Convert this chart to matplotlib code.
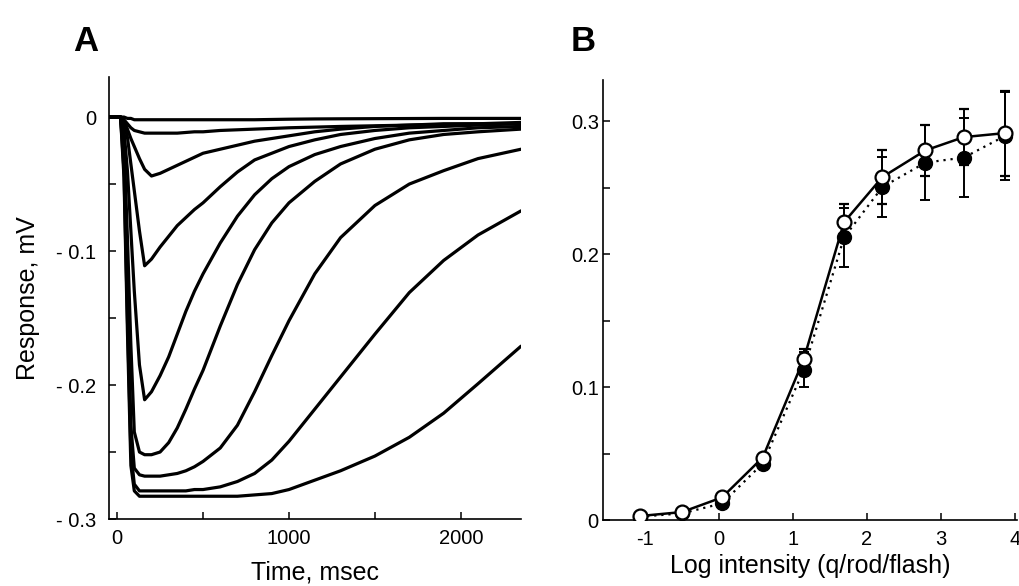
import matplotlib
matplotlib.use("Agg")
import matplotlib.pyplot as plt
from matplotlib.ticker import FixedLocator

plt.rcParams['font.family'] = ['Liberation Sans', 'DejaVu Sans']

# --- panel A: flash responses (ms, mV), one list per flash intensity
time_ms = [-45, 0, 20, 40, 60, 80, 100, 130, 160, 200, 250, 300, 350, 400, 450,
           500, 600, 700, 800, 900, 1000, 1150, 1300, 1500, 1700, 1900, 2100, 2350]

resp1 = [0, 0, 0, 0, -0.001, -0.001, -0.002, -0.002, -0.002, -0.002, -0.002, -0.002, -0.002, -0.002,
         -0.002, -0.002, -0.002, -0.002, -0.002, -0.0018, -0.0016, -0.0014, -0.0013, -0.0012, -0.0011,
         -0.001, -0.001, -0.001]
resp2 = [0, 0, 0, -0.002, -0.005, -0.008, -0.010, -0.011, -0.012, -0.012, -0.012, -0.012, -0.012,
         -0.0115, -0.011, -0.011, -0.010, -0.0095, -0.009, -0.0085, -0.008, -0.0075, -0.007,
         -0.0065, -0.006, -0.0055, -0.005, -0.005]
resp3 = [0, 0, 0, -0.003, -0.009, -0.016, -0.022, -0.031, -0.039, -0.044, -0.042, -0.039, -0.036,
         -0.033, -0.030, -0.027, -0.024, -0.021, -0.018, -0.016, -0.014, -0.011, -0.009, -0.007,
         -0.006, -0.005, -0.005, -0.004]
resp4 = [0, 0, 0, -0.004, -0.015, -0.035, -0.055, -0.085, -0.111, -0.106, -0.097, -0.089, -0.081,
         -0.075, -0.069, -0.064, -0.052, -0.041, -0.032, -0.027, -0.022, -0.017, -0.013, -0.010,
         -0.008, -0.007, -0.006, -0.005]
resp5 = [0, 0, 0, -0.010, -0.040, -0.085, -0.130, -0.185, -0.211, -0.205, -0.193, -0.179, -0.162,
         -0.145, -0.130, -0.117, -0.094, -0.074, -0.058, -0.046, -0.037, -0.028, -0.022, -0.016,
         -0.012, -0.010, -0.008, -0.007]
resp6 = [0, 0, 0, -0.020, -0.090, -0.170, -0.235, -0.250, -0.252, -0.252, -0.250, -0.243, -0.232,
         -0.218, -0.203, -0.189, -0.156, -0.125, -0.099, -0.079, -0.064, -0.048, -0.035, -0.024,
         -0.017, -0.013, -0.011, -0.009]
resp7 = [0, 0, 0, -0.030, -0.120, -0.230, -0.262, -0.267, -0.268, -0.268, -0.268, -0.267, -0.266,
         -0.264, -0.261, -0.257, -0.247, -0.230, -0.205, -0.178, -0.152, -0.117, -0.090, -0.066,
         -0.050, -0.040, -0.031, -0.024]
resp8 = [0, 0, 0, -0.040, -0.150, -0.250, -0.274, -0.279, -0.279, -0.279, -0.279, -0.279, -0.279,
         -0.279, -0.278, -0.278, -0.276, -0.272, -0.266, -0.256, -0.242, -0.218, -0.194, -0.162,
         -0.131, -0.107, -0.088, -0.070]
resp9 = [0, 0, 0, -0.045, -0.160, -0.260, -0.279, -0.283, -0.283, -0.283, -0.283, -0.283, -0.283,
         -0.283, -0.283, -0.283, -0.283, -0.283, -0.282, -0.281, -0.278, -0.271, -0.264, -0.253,
         -0.239, -0.221, -0.199, -0.171]

# --- panel B: intensity-response (log q/rod/flash, mV)
log_int = [-1.07, -0.50, 0.04, 0.59, 1.145, 1.69, 2.21, 2.79, 3.31, 3.865]
amp_open = [0.003, 0.006, 0.017, 0.047, 0.121, 0.224, 0.258, 0.278, 0.288, 0.291]
err_open = [0, 0, 0, 0.003, 0.008, 0.014, 0.020, 0.019, 0.021, 0.032]
amp_filled = [0.0025, 0.005, 0.0125, 0.0425, 0.113, 0.2125, 0.2505, 0.2688, 0.2726, 0.2888]
err_filled = [0, 0, 0, 0.004, 0.013, 0.022, 0.0225, 0.028, 0.030, 0.033]

fig = plt.figure(figsize=(10.2, 5.86), dpi=100)
axA = fig.add_axes([0.1069, 0.1143, 0.4039, 0.7543])
axB = fig.add_axes([0.5912, 0.1126, 0.4059, 0.7510])

for r in [resp1, resp2, resp3, resp4, resp5, resp6, resp7, resp8, resp9]:
    axA.plot(time_ms, r, color='black', lw=2.3, solid_joinstyle='round',
             solid_capstyle='round')

axA.set_xlim(-47, 2350)
axA.set_ylim(-0.3, 0.0299)
axA.xaxis.set_major_locator(FixedLocator([0, 1000, 2000]))
axA.xaxis.set_minor_locator(FixedLocator([500, 1500]))
axA.set_xticklabels(['0', '1000', '2000'])
axA.yaxis.set_major_locator(FixedLocator([0, -0.1, -0.2, -0.3]))
axA.yaxis.set_minor_locator(FixedLocator([-0.05, -0.15, -0.25]))
axA.set_yticklabels(['0', '- 0.1', '- 0.2', '- 0.3'])
axA.set_xlabel('Time, msec', fontsize=18, labelpad=9)
axA.set_ylabel('Response, mV', fontsize=18, labelpad=12)

# panel B
axB.errorbar(log_int, amp_filled, yerr=err_filled, color='black', lw=1.6,
             linestyle=(0, (1, 2.2)), marker='o', ms=10, mfc='black', mec='black',
             ecolor='black', elinewidth=1.4, capsize=3.5, capthick=1.4, zorder=2)
axB.errorbar(log_int, amp_open, yerr=err_open, color='black', lw=1.8,
             linestyle='-', marker='o', ms=10, mfc='white', mec='black', mew=1.6,
             ecolor='black', elinewidth=1.4, capsize=3.5, capthick=1.4, zorder=3)

axB.set_xlim(-1.57, 4.03)
axB.set_ylim(0, 0.331)
axB.set_xticks([-1, 0, 1, 2, 3, 4])
axB.set_xticklabels(['-1', '0', '1', '2', '3', '4'])
axB.yaxis.set_major_locator(FixedLocator([0, 0.1, 0.2, 0.3]))
axB.yaxis.set_minor_locator(FixedLocator([0.05, 0.15, 0.25]))
axB.set_yticklabels(['0', '0.1', '0.2', '0.3'])
axB.set_xlabel('Log intensity (q/rod/flash)', fontsize=18, labelpad=4)

for ax, ypad in [(axA, 9), (axB, 3)]:
    ax.spines['top'].set_visible(False)
    ax.spines['right'].set_visible(False)
    ax.spines['left'].set_linewidth(1.2)
    ax.spines['bottom'].set_linewidth(1.2)
    ax.tick_params(which='both', direction='in', length=5, width=1.1, labelsize=14.5)
    ax.tick_params(axis='x', which='major', pad=7)
    ax.tick_params(axis='y', which='major', pad=ypad)

fig.text(0.0716, 0.93, 'A', fontsize=25, fontweight='bold', va='center', ha='left')
fig.text(0.5598, 0.93, 'B', fontsize=25, fontweight='bold', va='center', ha='left')

fig.savefig('out.png', dpi=100, facecolor='white')
